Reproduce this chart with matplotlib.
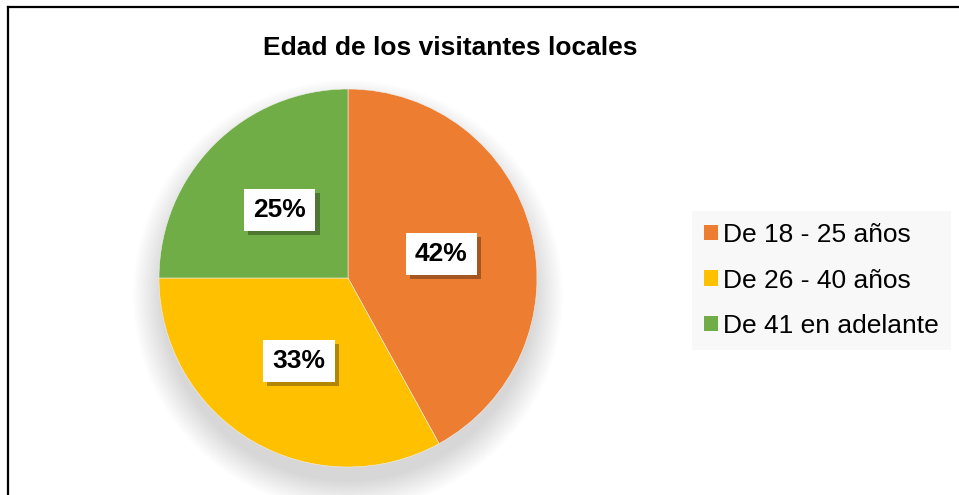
import matplotlib
matplotlib.use("Agg")
import matplotlib.pyplot as plt
import matplotlib.patheffects as pe
from matplotlib.patches import Circle
from matplotlib.lines import Line2D

# Chart data
categories = ["De 18 - 25 años", "De 26 - 40 años", "De 41 en adelante"]
values = [42, 33, 25]
colors = ["#ED7D31", "#FFC000", "#70AD47"]
title = "Edad de los visitantes locales"

plt.rcParams['font.family'] = ['Liberation Sans', 'DejaVu Sans']

W, H = 959, 495
fig = plt.figure(figsize=(W / 100, H / 100), dpi=100)

# pie axes: center (348, 278) px, radius 189 px; axes spans 1.25 radii each side
cx, cy, r = 348, 278, 189
ext = 1.25
ax = fig.add_axes([(cx - r * ext) / W, (H - cy - r * ext) / H,
                   2 * r * ext / W, 2 * r * ext / H])
ax.set_aspect('equal')
ax.axis('off')

# soft shadow under the pie
n = 40
for k in range(n):
    ax.add_patch(Circle((0, -0.09), 0.98 + 0.16 * (n - k) / n,
                        facecolor='black', edgecolor='none', alpha=0.005, zorder=0))

wedges, texts, autotexts = ax.pie(
    values, colors=colors, startangle=90, counterclock=False, radius=1.0,
    autopct='%1.0f%%', pctdistance=0.51,
    wedgeprops=dict(edgecolor='#f0f0f0', linewidth=0.4),
    textprops=dict(fontsize=19, fontweight='bold', color='black'))

ax.set_xlim(-ext, ext)
ax.set_ylim(-ext, ext)

for t in autotexts:
    t.set_bbox(dict(boxstyle='square,pad=0.35', facecolor='white', edgecolor='none'))
    t.get_bbox_patch().set_path_effects([
        pe.SimplePatchShadow(offset=(3, -3), shadow_rgbFace='black', alpha=0.3),
        pe.Normal()])

fig.text(450 / W, 1 - 48 / H, title, ha='center', va='center',
         fontsize=19, fontweight='bold')

leg = fig.legend(wedges, categories, loc='upper left',
                 bbox_to_anchor=(692 / W, 1 - 211 / H),
                 fontsize=19, frameon=True, fancybox=False,
                 facecolor='#F8F8F8', edgecolor='none', framealpha=1,
                 handlelength=0.52, handleheight=0.52, handletextpad=0.2,
                 labelspacing=0.82, borderpad=0.45, borderaxespad=0)
for h in leg.legend_handles:
    h.set_edgecolor('none')

# border lines (top and left)
fig.add_artist(Line2D([8 / W, 1], [1 - 6.5 / H, 1 - 6.5 / H], color='black',
                      linewidth=1.6, transform=fig.transFigure))
fig.add_artist(Line2D([8 / W, 8 / W], [0, 1 - 6.5 / H], color='black',
                      linewidth=1.6, transform=fig.transFigure))

fig.savefig("out.png", dpi=100)
